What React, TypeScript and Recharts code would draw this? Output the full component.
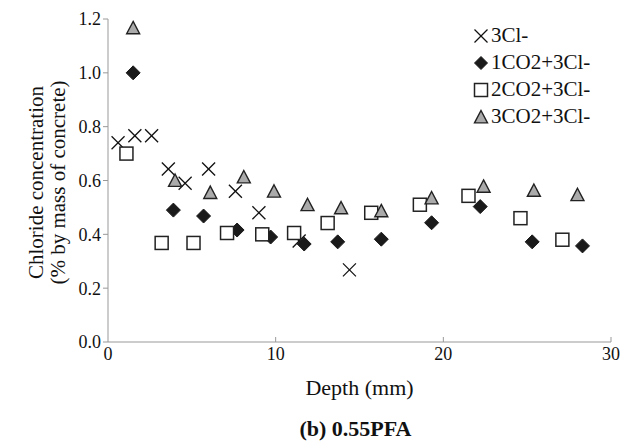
import { ScatterChart, Scatter, XAxis, YAxis } from "recharts";

// depth (mm) and chloride concentration (% by mass of concrete)
const clDepth = [0.6, 1.6, 2.6, 3.6, 4.6, 6.0, 7.6, 9.0, 11.4, 14.4];
const clConc = [0.74, 0.766, 0.766, 0.643, 0.59, 0.643, 0.56, 0.48, 0.375, 0.268];

const co1Depth = [1.5, 3.9, 5.7, 7.7, 9.7, 11.7, 13.7, 16.3, 19.3, 22.2, 25.3, 28.3];
const co1Conc = [1.0, 0.49, 0.468, 0.416, 0.39, 0.364, 0.372, 0.382, 0.443, 0.503, 0.372, 0.357];

const co2Depth = [1.1, 3.2, 5.1, 7.1, 9.2, 11.1, 13.1, 15.7, 18.6, 21.5, 24.6, 27.1];
const co2Conc = [0.7, 0.368, 0.368, 0.405, 0.4, 0.405, 0.442, 0.48, 0.51, 0.543, 0.46, 0.38];

const co3Depth = [1.5, 4.0, 6.1, 8.1, 9.9, 11.9, 13.9, 16.3, 19.3, 22.4, 25.4, 28.0];
const co3Conc = [1.167, 0.6, 0.555, 0.613, 0.56, 0.51, 0.498, 0.487, 0.535, 0.578, 0.563, 0.547];

const xTicks = [0, 10, 20, 30];
const yTicks = [0, 0.2, 0.4, 0.6, 0.8, 1.0, 1.2];

const FONT = "'Liberation Serif', 'Times New Roman', serif";
const AXIS = "#999";
const INK = "#111";

const toPoints = (xs: number[], ys: number[]) => xs.map((x, i) => ({ x, y: ys[i] }));

function XMark({ cx, cy, s = 6.5 }: { cx: number; cy: number; s?: number }) {
  return (
    <g stroke="#111" strokeWidth={1.3}>
      <line x1={cx - s} y1={cy - s} x2={cx + s} y2={cy + s} />
      <line x1={cx - s} y1={cy + s} x2={cx + s} y2={cy - s} />
    </g>
  );
}

function Diamond({ cx, cy, s = 7 }: { cx: number; cy: number; s?: number }) {
  return (
    <polygon
      points={`${cx},${cy - s} ${cx + s},${cy} ${cx},${cy + s} ${cx - s},${cy}`}
      fill="#1a1a1a"
      stroke="#1a1a1a"
    />
  );
}

function Square({ cx, cy, s = 6.5 }: { cx: number; cy: number; s?: number }) {
  return (
    <rect x={cx - s} y={cy - s} width={s * 2} height={s * 2} fill="#fff" stroke="#222" strokeWidth={1.5} />
  );
}

function Triangle({ cx, cy, s = 6.5 }: { cx: number; cy: number; s?: number }) {
  return (
    <polygon
      points={`${cx},${cy - s} ${cx + s},${cy + s * 0.9} ${cx - s},${cy + s * 0.9}`}
      fill="#aaa"
      stroke="#222"
      strokeWidth={1.4}
    />
  );
}

const series = [
  { name: "3Cl-", data: toPoints(clDepth, clConc), Mark: XMark },
  { name: "1CO2+3Cl-", data: toPoints(co1Depth, co1Conc), Mark: Diamond },
  { name: "2CO2+3Cl-", data: toPoints(co2Depth, co2Conc), Mark: Square },
  { name: "3CO2+3Cl-", data: toPoints(co3Depth, co3Conc), Mark: Triangle },
];

function XTick(props: any) {
  const { x, y, payload } = props;
  return (
    <g>
      {payload.value !== 0 && <line x1={x} y1={y} x2={x} y2={y - 5} stroke={AXIS} />}
      <text x={x} y={y + 18} textAnchor="middle" fontSize={18} fill={INK} fontFamily={FONT}>
        {payload.value}
      </text>
    </g>
  );
}

function LegendBox() {
  return (
    <div
      style={{
        position: "absolute",
        left: 472,
        top: 22,
        fontFamily: FONT,
        fontSize: 21,
        color: INK,
      }}
    >
      {series.map(({ name, Mark }) => (
        <div key={name} style={{ display: "flex", alignItems: "center", height: 27 }}>
          <svg width={18} height={18} style={{ marginRight: 1 }}>
            <Mark cx={9} cy={9} s={6.5} />
          </svg>
          <span>{name}</span>
        </div>
      ))}
    </div>
  );
}

export default function App() {
  return (
    <div style={{ position: "absolute", left: 0, top: 0, width: 634, height: 444, background: "#fff" }}>
      <ScatterChart width={634} height={444} margin={{ top: 19, right: 23, bottom: 72, left: 0 }}>
        <XAxis
          type="number"
          dataKey="x"
          domain={[0, 30]}
          ticks={xTicks}
          stroke={AXIS}
          tickLine={false}
          tickSize={0}
          tickMargin={0}
          height={30}
          tick={<XTick />}
          label={(p: any) => {
            const vb = p.viewBox;
            const cx = vb.x + vb.width / 2;
            return (
              <g fontFamily={FONT}>
                <text x={cx} y={vb.y + 53} textAnchor="middle" fontSize={22} fill={INK}>
                  Depth (mm)
                </text>
                <text x={cx - 4} y={vb.y + 94} textAnchor="middle" fontSize={22} fontWeight="bold" fill={INK}>
                  (b) 0.55PFA
                </text>
              </g>
            );
          }}
        />
        <YAxis
          type="number"
          dataKey="y"
          domain={[0, 1.2]}
          ticks={yTicks}
          width={108}
          stroke={AXIS}
          tickSize={5}
          tickMargin={2}
          tickFormatter={(v: number) => v.toFixed(1)}
          tick={{ fontSize: 18, fill: INK, fontFamily: FONT }}
          label={(p: any) => {
            const vb = p.viewBox;
            const cy = vb.y + vb.height / 2 + 2;
            return (
              <g fontFamily={FONT} fontSize={21}>
                <text x={36} y={cy} textAnchor="middle" transform={`rotate(-90, 36, ${cy})`} dy={7} fill={INK}>
                  Chloride concentration
                </text>
                <text x={58} y={cy} textAnchor="middle" transform={`rotate(-90, 58, ${cy})`} dy={7} fill={INK}>
                  (% by mass of concrete)
                </text>
              </g>
            );
          }}
        />
        {series.map(({ name, data, Mark }) => (
          <Scatter
            key={name}
            name={name}
            data={data}
            isAnimationActive={false}
            shape={(p: any) => <Mark cx={p.cx} cy={p.cy} />}
          />
        ))}
      </ScatterChart>
      <LegendBox />
    </div>
  );
}
